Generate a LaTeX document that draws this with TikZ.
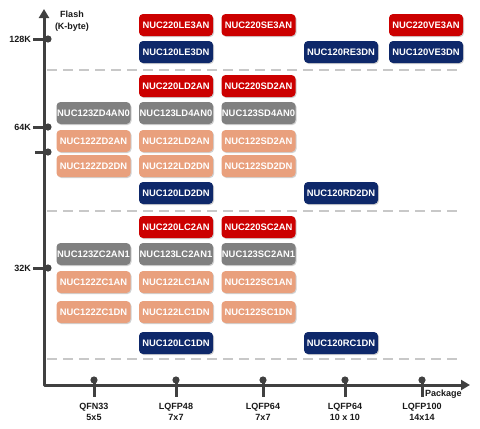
\documentclass[tikz,border=0pt]{standalone}
\usepackage{fontspec}
\setmainfont{Liberation Sans}
\usetikzlibrary{arrows.meta,shadows}
\definecolor{nured}{RGB}{204,0,0}
\definecolor{nunavy}{RGB}{14,40,106}
\definecolor{nugray}{RGB}{128,128,128}
\definecolor{nusalmon}{RGB}{233,160,125}
\definecolor{axisgray}{RGB}{64,64,64}
\definecolor{dashgray}{RGB}{200,200,200}
\tikzset{
  part/.style={rounded corners=4pt,minimum width=74pt,minimum height=22pt,inner sep=0pt,text=white,
    font=\fontsize{9.4}{10}\selectfont\bfseries,
    drop shadow={shadow xshift=1pt,shadow yshift=-1pt,opacity=0.3,fill=black!60}},
  p220/.style={part,fill=nured},
  p120/.style={part,fill=nunavy},
  p123/.style={part,fill=nugray},
  p122/.style={part,fill=nusalmon},
  axis/.style={line width=3pt,draw=axisgray,line join=round,
    {Triangle[length=9pt,width=10pt]}-{Triangle[length=9pt,width=10pt]}},
  tickln/.style={line width=3pt,draw=axisgray},
  sep/.style={draw=dashgray,line width=2.6pt,dash pattern=on 10pt off 6pt},
  lbl/.style={font=\fontsize{9}{11}\selectfont\bfseries,align=center,inner sep=0pt,text=black!90},
}
\begin{document}
\begin{tikzpicture}[x=1pt,y=-1pt]
\useasboundingbox (0,0) rectangle (480,429);
% axes
\coordinate (ytop) at (44,9);
\coordinate (orig) at (44,385);
\coordinate (xend) at (470,385);
\draw[axis] (ytop) -- (orig) -- (xend);
\node[lbl,font=\fontsize{9}{12}\selectfont\bfseries] (flash) at (72,21) {Flash\\(K-byte)};
\node[lbl,anchor=west] (pkg) at (425,394) {Package};

% flash ticks
\node[lbl,anchor=east] (k128) at (31,39) {128K};
\node[lbl,anchor=east] (k64) at (31,127) {64K};
\node[lbl,anchor=east] (k32) at (31,268) {32K};
\coordinate (y128) at (48,39);
\coordinate (y64) at (48,127);
\coordinate (y32) at (48,268);
\coordinate (yxs) at (35,152);
\coordinate (yx) at (48,152);
\draw[tickln,shorten <=2pt] (k128.east) -- (y128);
\draw[tickln,shorten <=2pt] (k64.east) -- (y64);
\draw[tickln,shorten <=2pt] (k32.east) -- (y32);
\draw[tickln] (yxs) -- (yx);
\fill[axisgray] (y128) circle (3.6pt) (y64) circle (3.6pt) (y32) circle (3.6pt) (yx) circle (3.6pt);

% package ticks
\node[lbl,anchor=north] (qfn33) at (94,403.5) {QFN33\\5x5};
\node[lbl,anchor=north] (lq48) at (176,403.5) {LQFP48\\7x7};
\node[lbl,anchor=north] (lq64a) at (263,403.5) {LQFP64\\7x7};
\node[lbl,anchor=north] (lq64b) at (345,403.5) {LQFP64\\10 x 10};
\node[lbl,anchor=north] (lq100) at (422,403.5) {LQFP100\\14x14};
\coordinate (xq33) at (94,380);
\coordinate (xl48) at (176,380);
\coordinate (xl64a) at (263,380);
\coordinate (xl64b) at (345,380);
\coordinate (xl100) at (422,380);
\draw[tickln,shorten >=6.5pt] (xq33) -- (qfn33.north);
\draw[tickln,shorten >=6.5pt] (xl48) -- (lq48.north);
\draw[tickln,shorten >=6.5pt] (xl64a) -- (lq64a.north);
\draw[tickln,shorten >=6.5pt] (xl64b) -- (lq64b.north);
\draw[tickln,shorten >=6.5pt] (xl100) -- (lq100.north);
\fill[axisgray] (xq33) circle (3.6pt) (xl48) circle (3.6pt) (xl64a) circle (3.6pt) (xl64b) circle (3.6pt) (xl100) circle (3.6pt);

% separators
\draw[sep] (47,70) -- (463,70);
\draw[sep] (47,211) -- (463,211);
\draw[sep] (47,359) -- (463,359);

% 128K parts
\node[p220] (le3an) at (176,25) {NUC220LE3AN};
\node[p220] (se3an) at (258.5,25) {NUC220SE3AN};
\node[p220] (ve3an) at (426,25) {NUC220VE3AN};
\node[p120] (le3dn) at (176,52) {NUC120LE3DN};
\node[p120] (re3dn) at (341,52) {NUC120RE3DN};
\node[p120] (ve3dn) at (426,52) {NUC120VE3DN};

% 64K parts
\node[p220] (ld2an) at (176,86) {NUC220LD2AN};
\node[p220] (sd2an) at (258.5,86) {NUC220SD2AN};
\node[p123] (zd4an0) at (93.5,113) {NUC123ZD4AN0};
\node[p123] (ld4an0) at (176,113) {NUC123LD4AN0};
\node[p123] (sd4an0) at (258.5,113) {NUC123SD4AN0};
\node[p122] (zd2an) at (93.5,141) {NUC122ZD2AN};
\node[p122] (ld2an2) at (176,141) {NUC122LD2AN};
\node[p122] (sd2an2) at (258.5,141) {NUC122SD2AN};
\node[p122] (zd2dn) at (93.5,166) {NUC122ZD2DN};
\node[p122] (ld2dn2) at (176,166) {NUC122LD2DN};
\node[p122] (sd2dn2) at (258.5,166) {NUC122SD2DN};
\node[p120] (ld2dn) at (176,193) {NUC120LD2DN};
\node[p120] (rd2dn) at (341,193) {NUC120RD2DN};

% 32K parts
\node[p220] (lc2an) at (176,227) {NUC220LC2AN};
\node[p220] (sc2an) at (258.5,227) {NUC220SC2AN};
\node[p123] (zc2an1) at (93.5,254) {NUC123ZC2AN1};
\node[p123] (lc2an1) at (176,254) {NUC123LC2AN1};
\node[p123] (sc2an1) at (258.5,254) {NUC123SC2AN1};
\node[p122] (zc1an) at (93.5,282) {NUC122ZC1AN};
\node[p122] (lc1an) at (176,282) {NUC122LC1AN};
\node[p122] (sc1an) at (258.5,282) {NUC122SC1AN};
\node[p122] (zc1dn) at (93.5,312) {NUC122ZC1DN};
\node[p122] (lc1dn2) at (176,312) {NUC122LC1DN};
\node[p122] (sc1dn) at (258.5,312) {NUC122SC1DN};
\node[p120] (lc1dn) at (176,343) {NUC120LC1DN};
\node[p120] (rc1dn) at (341,343) {NUC120RC1DN};
\end{tikzpicture}
\end{document}
